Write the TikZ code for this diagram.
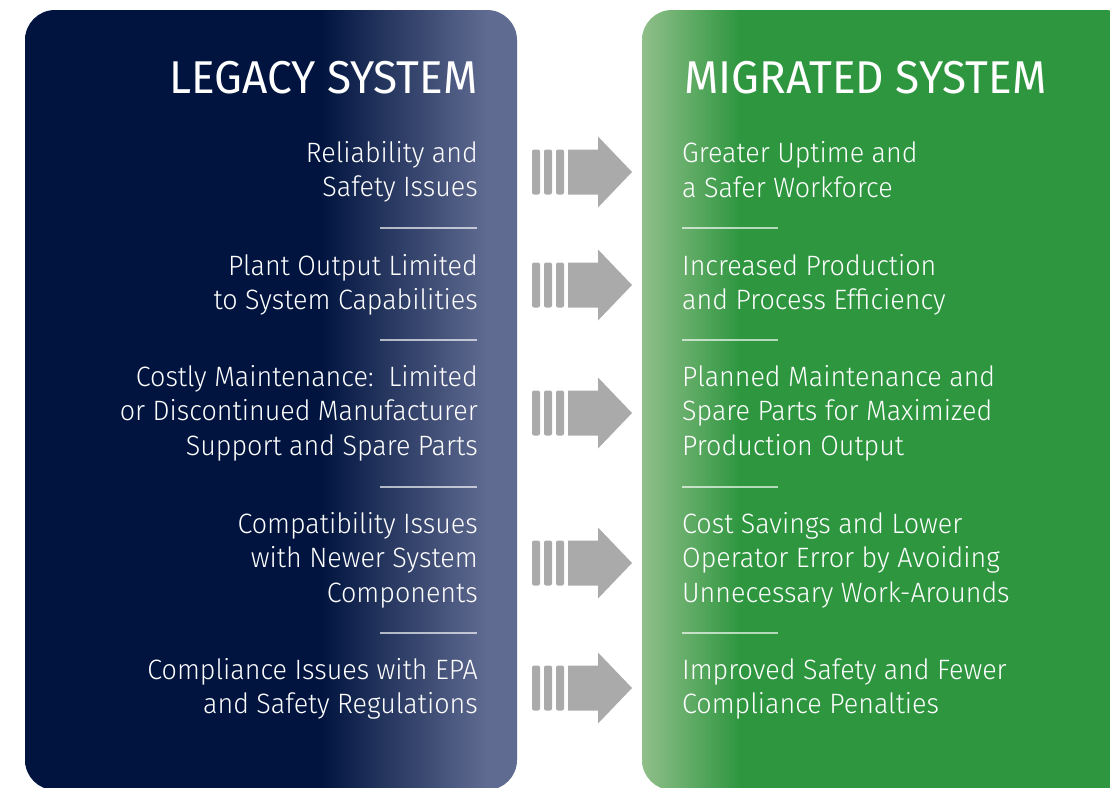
\documentclass[tikz,border=0pt]{standalone}
\usepackage{fontspec}
\setmainfont{Fira Sans}[UprightFont={* Light}, BoldFont={* Regular}, FakeStretch=0.96]
\usepackage{xcolor}
\usepackage{tikz}
\usetikzlibrary{positioning}
\definecolor{legacynavy}{HTML}{00143F}
\definecolor{legacyslate}{HTML}{606B91}
\definecolor{migratedlight}{HTML}{90BF8A}
\definecolor{migratedgreen}{HTML}{2D963F}
\definecolor{arrowgray}{HTML}{AAAAAA}
\pgfdeclarehorizontalshading{legacyshade}{100bp}{color(0bp)=(legacynavy); color(55bp)=(legacynavy); color(72bp)=(legacyslate); color(100bp)=(legacyslate)}
\pgfdeclarehorizontalshading{migratedshade}{100bp}{color(0bp)=(migratedlight); color(25bp)=(migratedlight); color(35bp)=(migratedgreen); color(100bp)=(migratedgreen)}
\tikzstyle{panel} = [rounded corners=30pt]
\tikzstyle{title} = [inner sep=0pt, text=white, font=\fontsize{46}{52}\selectfont\bfseries]
\tikzstyle{legacy} = [inner sep=0pt, anchor=east, align=right, text=white, font=\fontsize{28}{34.5}\selectfont]
\tikzstyle{migrated} = [inner sep=0pt, anchor=west, align=left, text=white, font=\fontsize{28}{34.5}\selectfont]
\tikzstyle{rule} = [white, opacity=0.65, line width=1.5pt]
\tikzstyle{bar} = [fill=arrowgray, rounded corners=2pt]

\begin{document}
\begin{tikzpicture}[x=1pt, y=-1pt]
   \useasboundingbox (0,0) rectangle (1110,787);
   \clip (0,0) rectangle (1110,787);
   % panels
   \path [panel, shading=legacyshade] (25,10) rectangle (517,790);
   \path [panel, shading=migratedshade] (642,10) rectangle (1135,790);
   \node (legacytitle) [title, anchor=base east] at (478,93) {LEGACY SYSTEM};
   \node (migratedtitle) [title, anchor=base west] at (684,93) {MIGRATED SYSTEM};
   % left column
   \node (legacyA) [legacy] at (478,172) {Reliability and\\Safety Issues};
   \node (legacyB) [legacy] at (478,285) {Plant Output Limited\\to System Capabilities};
   \node (legacyC) [legacy] at (478,413) {Costly Maintenance:\ \ Limited\\or Discontinued Manufacturer\\Support and Spare Parts};
   \node (legacyD) [legacy] at (478,560) {Compatibility Issues\\with Newer System\\Components};
   \node (legacyE) [legacy] at (478,689) {Compliance Issues with EPA\\and Safety Regulations};
   % right column
   \node (migratedA) [migrated] at (682,169.5) {Greater Uptime and\\a Safer Workforce};
   \node (migratedB) [migrated] at (682,285) {Increased Production\\and Process Efficiency};
   \node (migratedC) [migrated] at (682,413) {Planned Maintenance and\\Spare Parts for Maximized\\Production Output};
   \node (migratedD) [migrated] at (682,560) {Cost Savings and Lower\\Operator Error by Avoiding\\Unnecessary Work-Arounds};
   \node (migratedE) [migrated] at (682,689) {Improved Safety and Fewer\\Compliance Penalties};
   % separators
   \foreach \ry in {228,340,487,633} {
      \draw [rule] (380,\ry) -- (477,\ry);
      \draw [rule] (682,\ry) -- (778,\ry);
   }
   % arrows
   \foreach \cy in {172,285,413,563,688} {
      \fill [bar] (532,\cy-22.5) rectangle (540,\cy+22.5);
      \fill [bar] (544,\cy-22.5) rectangle (552,\cy+22.5);
      \fill [bar] (556,\cy-22.5) rectangle (564,\cy+22.5);
      \fill [arrowgray] (568,\cy-22.5) -- (598,\cy-22.5) -- (598,\cy-35.5) -- (632,\cy)
         -- (598,\cy+35.5) -- (598,\cy+22.5) -- (568,\cy+22.5) -- cycle;
   }
\end{tikzpicture}
\end{document}
